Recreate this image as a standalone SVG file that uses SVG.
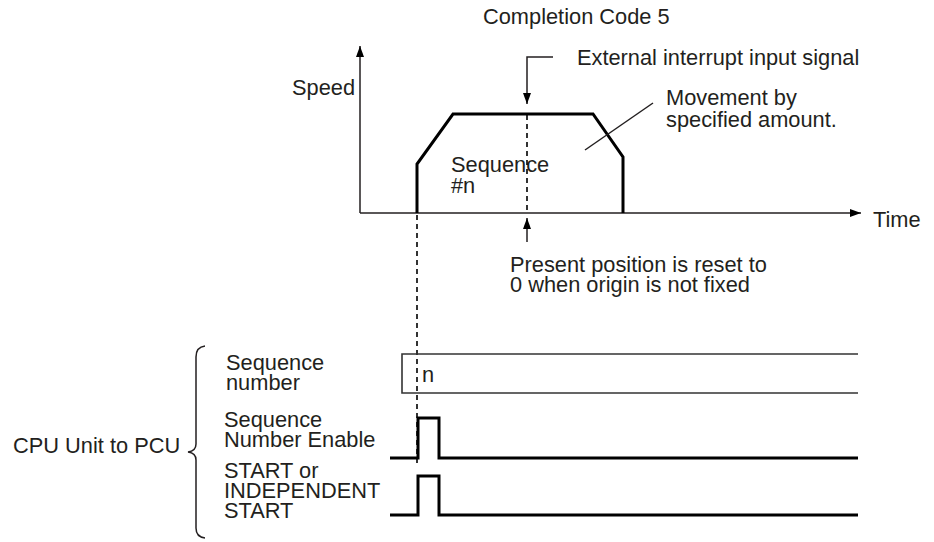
<svg xmlns="http://www.w3.org/2000/svg" width="934" height="542" viewBox="0 0 934 542">
<style>
  text { font-family: "Liberation Sans", Arial, sans-serif; font-size: 21.8px; fill: #231f20; }
  .thin { fill: none; stroke: #231f20; stroke-width: 1.5; }
  .thick { fill: none; stroke: #000; stroke-width: 3; stroke-linejoin: miter; }
  .dash { fill: none; stroke: #000; stroke-width: 1.6; stroke-dasharray: 5 4; }
  .box { fill: none; stroke: #333; stroke-width: 1.6; }
</style>
<defs>
  <marker id="arrow" markerUnits="userSpaceOnUse" markerWidth="12" markerHeight="10" refX="11" refY="4" orient="auto">
    <path d="M0,0 L11,4 L0,8 Z" fill="#000"/>
  </marker>
</defs>
<rect width="934" height="542" fill="#fff"/>

<g id="titles">
  <text x="483" y="24">Completion Code 5</text>
</g>

<g id="axes">
  <line class="thin" x1="360" y1="213" x2="360" y2="46" marker-end="url(#arrow)"/>
  <line class="thin" x1="360" y1="213" x2="861" y2="213" marker-end="url(#arrow)"/>
  <text x="292" y="95">Speed</text>
  <text x="873" y="227">Time</text>
</g>

<g id="speed-profile">
  <polyline class="thick" points="417,213 417,164 453,114 593,114 623,157 623,213"/>
  <text x="451" y="172">Sequence</text>
  <text x="451" y="193">#n</text>
</g>

<g id="external-interrupt">
  <polyline class="thin" points="553,57 527,57 527,104" marker-end="url(#arrow)"/>
  <text x="577" y="65">External interrupt input signal</text>
  <line class="dash" x1="527" y1="115" x2="527" y2="213"/>
</g>

<g id="movement-label">
  <line class="thin" x1="585" y1="150" x2="653" y2="103"/>
  <text x="666" y="105">Movement by</text>
  <text x="666" y="127">specified amount.</text>
</g>

<g id="present-position">
  <line class="thin" x1="527" y1="242" x2="527" y2="218" marker-end="url(#arrow)"/>
  <text x="510" y="272">Present position is reset to</text>
  <text x="510" y="292">0 when origin is not fixed</text>
</g>

<g id="connectors">
  <line class="dash" x1="417" y1="215" x2="417" y2="465"/>
</g>

<g id="sequence-number">
  <text x="226" y="370">Sequence</text>
  <text x="226" y="390">number</text>
  <polyline class="box" points="858,354 402,354 402,393 858,393"/>
  <text x="422" y="382">n</text>
</g>

<g id="sequence-number-enable">
  <text x="224" y="427">Sequence</text>
  <text x="224" y="447">Number Enable</text>
  <polyline class="thick" points="390,458 418,458 418,418 439,418 439,458 858,458"/>
</g>

<g id="start">
  <text x="224" y="478">START or</text>
  <text x="224" y="498">INDEPENDENT</text>
  <text x="224" y="518">START</text>
  <polyline class="thick" points="390,515 418,515 418,476 439,476 439,515 858,515"/>
</g>

<g id="cpu-unit">
  <text x="13" y="453">CPU Unit to PCU</text>
  <path class="thin" d="M205,346 Q196,347 196,357 L196,444 Q196,451 188,452 Q196,453 196,460 L196,528 Q196,537 205,538" stroke-width="1.2"/>
</g>
</svg>
